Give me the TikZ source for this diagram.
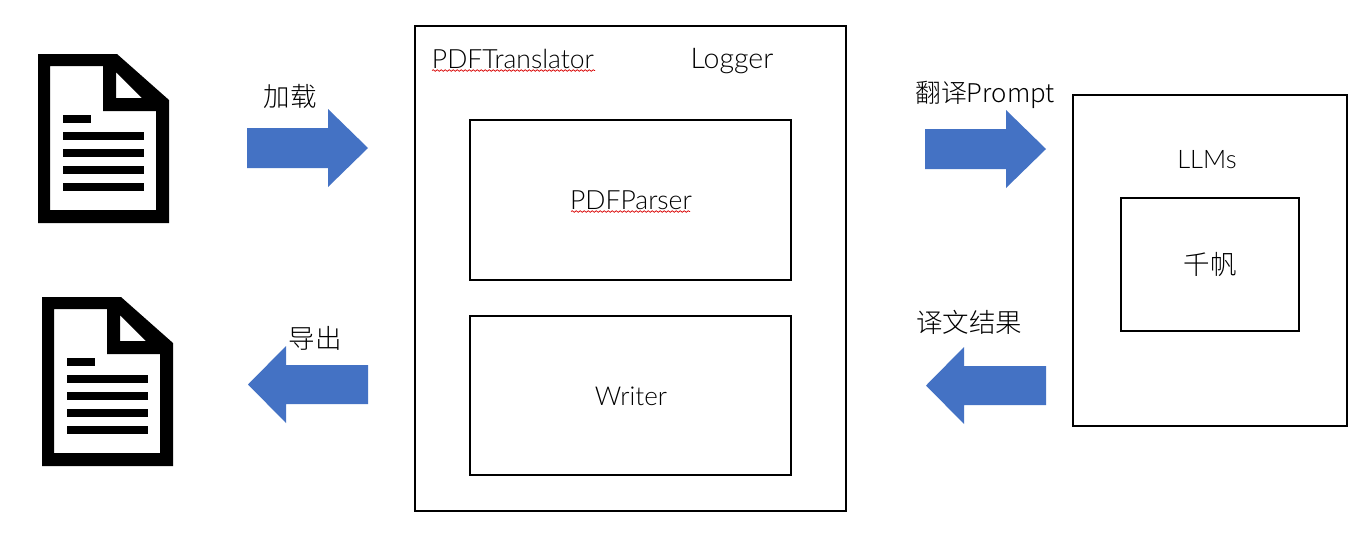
\documentclass[tikz,border=0pt]{standalone}
\usepackage{fontspec}
\setmainfont{Lato Light}
\newfontfamily\cjk{Noto Sans CJK SC Light}
\usetikzlibrary{decorations.pathmorphing}
\definecolor{arrowblue}{HTML}{4472C4}
\tikzset{
  x=1pt,y=-1pt,
  boxn/.style={draw=black,line width=2pt,fill=none},
  lbl/.style={inner sep=0pt,anchor=base,font=\fontsize{26.5}{30}\selectfont,text=black},
  cjklbl/.style={inner sep=0pt,font=\fontsize{26.5}{30}\selectfont\cjk,text=black},
  bigarrow/.style={fill=arrowblue,draw=none},
  spell/.style={draw=red!85!black,line width=0.7pt,decorate,decoration={snake,amplitude=0.8pt,segment length=4pt}},
}
\newcommand{\docicon}[2]{%
  \begin{scope}[shift={(#1,#2)}]
    \fill[black,even odd rule]
      (38,54) -- (117,54) -- (169,100) -- (169,223) -- (38,223) -- cycle
      (50,66) -- (103,66) -- (103,111) -- (156,111) -- (156,210) -- (50,210) -- cycle
      (116,72) -- (142,98) -- (116,98) -- cycle;
    \fill[black] (63,115) rectangle (91,123);
    \foreach \yy in {132,149,166,183} {\fill[black] (63,\yy) rectangle (144,\yy+8);}
  \end{scope}}
\newcommand{\rarrow}[2]{%
  \fill[bigarrow,shift={(#1,#2)}] (0,19) -- (81,19) -- (81,0) -- (121,39) -- (81,78) -- (81,59) -- (0,59) -- cycle;}
\newcommand{\larrow}[2]{%
  \fill[bigarrow,shift={(#1,#2)}] (120,19) -- (38,19) -- (38,0) -- (0,38.5) -- (38,77) -- (38,58) -- (120,58) -- cycle;}
\begin{document}
\begin{tikzpicture}
\useasboundingbox (0,0) rectangle (1360,536);
\fill[white] (0,0) rectangle (1360,536);
\docicon{0}{0}
\docicon{4}{243}
\rarrow{247}{109}
\rarrow{925}{110}
\larrow{248}{346}
\larrow{926}{347}
\draw[boxn] (415,26) rectangle (846,511);
\draw[boxn] (470,120) rectangle (791,280);
\draw[boxn] (470,316) rectangle (791,475);
\draw[boxn] (1073,95) rectangle (1347,426);
\draw[boxn] (1121,198) rectangle (1299,331);
\node[cjklbl] (load) at (290,96) {加载};
\node[cjklbl] (export) at (315,338) {导出};
\node[cjklbl,font=\fontsize{25.8}{30}\selectfont\cjk] (prompt) at (985,95) {翻译Prompt};
\node[cjklbl] (result) at (969,322) {译文结果};
\node[lbl] (trans) at (513,68) {PDFTranslator};
\node[lbl,font=\fontsize{28.5}{30}\selectfont] (logger) at (732,68) {Logger};
\node[lbl] (parser) at (631,209) {PDFParser};
\node[lbl,font=\fontsize{26}{30}\selectfont] (writer) at (631,405) {Writer};
\node[lbl,font=\fontsize{25.5}{30}\selectfont] (llms) at (1207,168) {LLMs};
\node[cjklbl] (qf) at (1210,264) {千帆};
\coordinate (sa) at (432,70.5);
\coordinate (sb) at (595,70.5);
\coordinate (sc) at (571,211.5);
\coordinate (sd) at (690,211.5);
\draw[spell] (sa) -- (sb);
\draw[spell] (sc) -- (sd);
\end{tikzpicture}
\end{document}
